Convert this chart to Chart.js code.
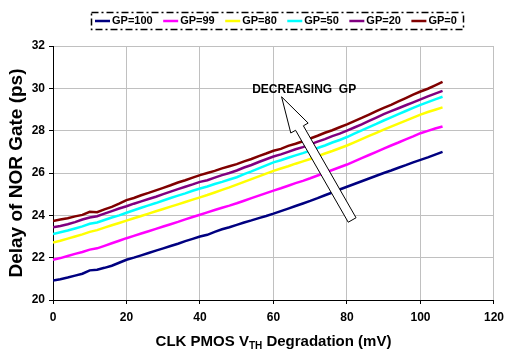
<!DOCTYPE html>
<html>
<head>
<meta charset="utf-8">
<script src="https://cdn.jsdelivr.net/npm/chart.js@4/dist/chart.umd.min.js"></script>
<style>
  html, body { margin: 0; padding: 0; background: #fff; }
  #wrap { width: 510px; height: 349px; position: relative; }
</style>
</head>
<body>
<div id="wrap"><canvas id="chart"></canvas></div>
<script>
// x values (mV)
const vthShift = [0, 2, 4, 6, 8, 10, 12, 14, 16, 18, 20, 22, 24, 26, 28, 30, 32, 34, 36, 38,
  40, 42, 44, 46, 48, 50, 52, 54, 56, 58, 60, 62, 64, 66, 68, 70, 72, 74, 76, 78,
  80, 82, 84, 86, 88, 90, 92, 94, 96, 98, 100, 102, 104, 106];

// delay values (ps)
const gp100 = [20.92, 20.98, 21.06, 21.15, 21.24, 21.40, 21.43, 21.52, 21.62, 21.76, 21.90, 22.00, 22.11, 22.22, 22.33, 22.44, 22.55, 22.66, 22.78, 22.89,
  23.00, 23.08, 23.22, 23.34, 23.44, 23.55, 23.66, 23.76, 23.87, 23.97, 24.08, 24.20, 24.32, 24.44, 24.56, 24.68, 24.81, 24.95, 25.08, 25.22,
  25.35, 25.48, 25.61, 25.74, 25.87, 26.00, 26.12, 26.25, 26.37, 26.50, 26.62, 26.74, 26.87, 27.00];
const gp99 = [21.90, 21.98, 22.08, 22.18, 22.27, 22.38, 22.44, 22.56, 22.68, 22.80, 22.92, 23.03, 23.14, 23.25, 23.36, 23.47, 23.58, 23.69, 23.81, 23.92,
  24.03, 24.14, 24.25, 24.36, 24.46, 24.57, 24.69, 24.81, 24.93, 25.05, 25.17, 25.28, 25.40, 25.52, 25.63, 25.75, 25.88, 26.01, 26.14, 26.27,
  26.40, 26.55, 26.70, 26.85, 27.00, 27.15, 27.30, 27.44, 27.59, 27.73, 27.88, 27.99, 28.10, 28.20];
const gp80 = [22.72, 22.80, 22.90, 23.00, 23.10, 23.22, 23.30, 23.42, 23.53, 23.64, 23.75, 23.86, 23.97, 24.08, 24.19, 24.30, 24.41, 24.52, 24.63, 24.74,
  24.85, 24.96, 25.08, 25.20, 25.32, 25.45, 25.58, 25.71, 25.84, 25.97, 26.10, 26.21, 26.32, 26.44, 26.55, 26.66, 26.79, 26.92, 27.04, 27.17,
  27.30, 27.45, 27.60, 27.75, 27.90, 28.05, 28.19, 28.33, 28.47, 28.62, 28.76, 28.88, 28.99, 29.10];
const gp50 = [23.12, 23.20, 23.28, 23.38, 23.48, 23.60, 23.66, 23.78, 23.90, 24.00, 24.12, 24.24, 24.36, 24.47, 24.58, 24.70, 24.82, 24.93, 25.04, 25.16,
  25.27, 25.36, 25.48, 25.58, 25.69, 25.80, 25.95, 26.08, 26.22, 26.36, 26.50, 26.60, 26.72, 26.83, 26.94, 27.06, 27.18, 27.30, 27.44, 27.56,
  27.70, 27.86, 28.01, 28.17, 28.32, 28.48, 28.63, 28.78, 28.93, 29.08, 29.22, 29.35, 29.48, 29.60];
const gp20 = [23.43, 23.50, 23.58, 23.68, 23.80, 23.90, 23.96, 24.08, 24.20, 24.32, 24.43, 24.55, 24.66, 24.77, 24.88, 25.00, 25.12, 25.24, 25.35, 25.46,
  25.58, 25.66, 25.78, 25.90, 26.00, 26.12, 26.26, 26.38, 26.52, 26.65, 26.78, 26.88, 27.00, 27.12, 27.22, 27.35, 27.48, 27.60, 27.74, 27.86,
  28.00, 28.15, 28.30, 28.46, 28.62, 28.78, 28.92, 29.06, 29.20, 29.34, 29.48, 29.62, 29.75, 29.88];
const gp0 = [23.73, 23.80, 23.86, 23.95, 24.02, 24.17, 24.15, 24.28, 24.40, 24.55, 24.72, 24.82, 24.95, 25.06, 25.18, 25.30, 25.42, 25.55, 25.66, 25.78,
  25.90, 26.00, 26.10, 26.22, 26.32, 26.42, 26.55, 26.66, 26.80, 26.92, 27.05, 27.14, 27.28, 27.38, 27.50, 27.63, 27.76, 27.90, 28.02, 28.16,
  28.30, 28.45, 28.60, 28.76, 28.92, 29.08, 29.22, 29.38, 29.54, 29.70, 29.85, 29.98, 30.14, 30.30];

const seriesNames = ['GP=100', 'GP=99', 'GP=80', 'GP=50', 'GP=20', 'GP=0'];
const seriesValues = [gp100, gp99, gp80, gp50, gp20, gp0];
const seriesColors = ['#000080', '#FF00FF', '#FFFF00', '#00FFFF', '#800080', '#800000'];

// arrow annotation, in data units
const arrowTip = { x: 62.2, y: 29.6 };
const arrowTail = { x: 81.4, y: 23.78 };
const arrowText = { x: 54.2, y: 29.95, text: 'DECREASING  GP' };

const FONT = "'Liberation Sans', Arial, sans-serif";

const datasets = seriesNames.map((name, i) => ({
  label: name,
  data: vthShift.map((x, j) => ({ x: x, y: seriesValues[i][j] })),
  borderColor: seriesColors[i],
  backgroundColor: seriesColors[i],
  borderWidth: 2.5,
  pointRadius: 0,
  tension: 0,
  fill: false
}));

const extras = {
  id: 'extras',
  afterDatasetsDraw(chart) {
    const ctx = chart.ctx;
    const xs = chart.scales.x, ys = chart.scales.y;
    // hollow arrow
    const tx = xs.getPixelForValue(arrowTip.x), ty = ys.getPixelForValue(arrowTip.y);
    const bx = xs.getPixelForValue(arrowTail.x), by = ys.getPixelForValue(arrowTail.y);
    const len = Math.hypot(tx - bx, ty - by);
    const ux = (tx - bx) / len, uy = (ty - by) / len;
    const nx = -uy, ny = ux;
    const headLen = 36, headHalf = 10, shaftHalf = 4.5;
    const hx = tx - ux * headLen, hy = ty - uy * headLen;
    ctx.save();
    ctx.beginPath();
    ctx.moveTo(bx + nx * shaftHalf, by + ny * shaftHalf);
    ctx.lineTo(hx + nx * shaftHalf, hy + ny * shaftHalf);
    ctx.lineTo(hx + nx * headHalf, hy + ny * headHalf);
    ctx.lineTo(tx, ty);
    ctx.lineTo(hx - nx * headHalf, hy - ny * headHalf);
    ctx.lineTo(hx - nx * shaftHalf, hy - ny * shaftHalf);
    ctx.lineTo(bx - nx * shaftHalf, by - ny * shaftHalf);
    ctx.closePath();
    ctx.fillStyle = '#fff';
    ctx.fill();
    ctx.strokeStyle = '#000';
    ctx.lineWidth = 1;
    ctx.stroke();

    ctx.font = 'bold 12px ' + FONT;
    ctx.fillStyle = '#000';
    ctx.textBaseline = 'middle';
    ctx.textAlign = 'left';
    ctx.fillText(arrowText.text, xs.getPixelForValue(arrowText.x), ys.getPixelForValue(arrowText.y));
    ctx.restore();
  },
  afterDraw(chart) {
    const ctx = chart.ctx;
    ctx.save();
    // legend box
    ctx.strokeStyle = '#000';
    ctx.lineWidth = 1.5;
    ctx.setLineDash([7, 3, 2, 3]);
    ctx.strokeRect(91.5, 12.5, 372, 17);
    ctx.setLineDash([]);
    ctx.font = 'bold 11px ' + FONT;
    ctx.textBaseline = 'middle';
    ctx.textAlign = 'left';
    let x = 95;
    const cy = 21;
    chart.data.datasets.forEach((ds) => {
      ctx.strokeStyle = ds.borderColor;
      ctx.lineWidth = 2.5;
      ctx.beginPath();
      ctx.moveTo(x, cy);
      ctx.lineTo(x + 15, cy);
      ctx.stroke();
      ctx.fillStyle = '#000';
      ctx.fillText(ds.label, x + 17, cy);
      x += 17 + ctx.measureText(ds.label).width + 10.5;
    });

    // x axis title with subscript
    const xs = chart.scales.x;
    const midX = (xs.left + xs.right) / 2;
    const partA = 'CLK PMOS V', sub = 'TH', partB = ' Degradation (mV)';
    const big = 'bold 15px ' + FONT, small = 'bold 10px ' + FONT;
    ctx.font = big;
    const wA = ctx.measureText(partA).width, wB = ctx.measureText(partB).width;
    ctx.font = small;
    const wS = ctx.measureText(sub).width;
    let sx = midX - (wA + wS + wB) / 2;
    const base = 345.5;
    ctx.textBaseline = 'alphabetic';
    ctx.fillStyle = '#000';
    ctx.font = big;
    ctx.fillText(partA, sx, base);
    sx += wA;
    ctx.font = small;
    ctx.fillText(sub, sx, base + 3);
    sx += wS;
    ctx.font = big;
    ctx.fillText(partB, sx, base);
    ctx.restore();
  }
};

new Chart(document.getElementById('chart'), {
  type: 'line',
  data: { datasets: datasets },
  plugins: [extras],
  options: {
    responsive: true,
    maintainAspectRatio: false,
    animation: false,
    layout: { padding: { top: 46, right: 12, bottom: 0, left: 0 } },
    plugins: {
      legend: { display: false },
      tooltip: { enabled: false }
    },
    scales: {
      x: {
        type: 'linear',
        min: 0,
        max: 120,
        ticks: {
          stepSize: 20,
          color: '#000',
          padding: 6,
          font: { family: FONT, size: 12, weight: 'bold' }
        },
        grid: { color: '#c0c0c0', tickColor: '#000', tickLength: 4 },
        border: { color: '#000', width: 1 },
        afterFit(scale) { scale.height = 49; }
      },
      y: {
        min: 20,
        max: 32,
        ticks: {
          stepSize: 2,
          color: '#000',
          padding: 4,
          font: { family: FONT, size: 12, weight: 'bold' }
        },
        grid: { color: '#c0c0c0', tickColor: '#000', tickLength: 4 },
        border: { color: '#000', width: 1 },
        title: {
          display: true,
          text: 'Delay of NOR Gate (ps)',
          color: '#000',
          padding: { top: 5, bottom: 0 },
          font: { family: FONT, size: 19, weight: 'bold' }
        },
        afterFit(scale) { scale.width = 53; }
      }
    }
  }
});
</script>
</body>
</html>
